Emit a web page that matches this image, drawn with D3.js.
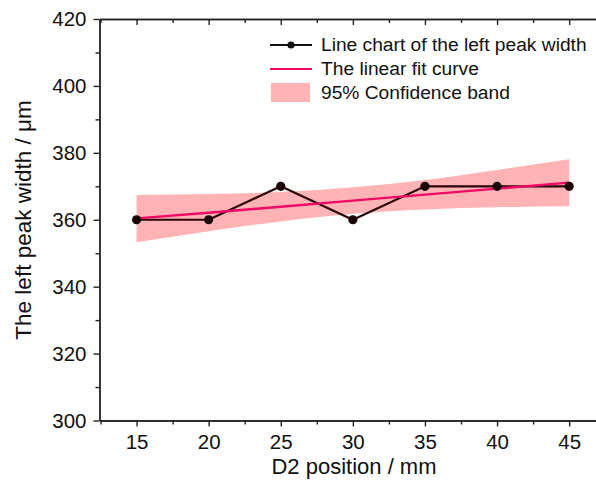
<!DOCTYPE html>
<html>
<head>
<meta charset="utf-8">
<script src="https://cdn.jsdelivr.net/npm/d3@7"></script>
<style>
  body { margin: 0; background: #fff; }
  svg { font-family: "Liberation Sans", Arial, sans-serif; }
  .axis path, .axis line { stroke: #222; stroke-width: 1.4; }
  .axis text { font-size: 20.5px; fill: #111; font-family: "Liberation Sans", Arial, sans-serif; }
</style>
</head>
<body>
<script>
//data
var positions = [15, 20, 25, 30, 35, 40, 45];
var peakWidth = [360, 360, 370, 360, 370, 370, 370];
var fitValues = [360.4, 362.1, 363.9, 365.7, 367.5, 369.3, 371.1];
var bandLower = [353.3, 356.6, 359.5, 361.8, 363.1, 363.7, 364.0];
var bandUpper = [367.4, 367.7, 368.3, 369.7, 371.9, 374.9, 378.1];
var yTicks = [300, 320, 340, 360, 380, 400, 420];
var legendLabels = ["Line chart of the left peak width", "The linear fit curve", "95% Confidence band"];

window.onload = drawChart();

function drawChart(){
    var width = 596,
        height = 483;
    var left = 99.5, top = 19, bottom = 420.5;

    var svg = d3.select("body")
        .append("svg")
        .attr("width", width)
        .attr("height", height);

    //x scale: 15 at ~136.5, 45 at ~569, axis runs off the right edge
    var x = d3.scaleLinear()
        .domain([12.43, 48])
        .range([left, left + (48 - 12.43) * 14.42]);

    var y = d3.scaleLinear()
        .domain([300, 420])
        .range([bottom, top]);

    var rows = positions.map(function(p, i){
        return {x: p, y: peakWidth[i], fit: fitValues[i], lo: bandLower[i], hi: bandUpper[i]};
    });

    //confidence band
    var area = d3.area()
        .x(function(d){ return x(d.x); })
        .y0(function(d){ return y(d.lo); })
        .y1(function(d){ return y(d.hi); })
        .curve(d3.curveMonotoneX);
    svg.append("path")
        .datum(rows)
        .attr("d", area)
        .attr("fill", "#ffb3b5");

    //data line
    var line = d3.line()
        .x(function(d){ return x(d.x); })
        .y(function(d){ return y(d.y); });
    svg.append("path")
        .datum(rows)
        .attr("d", line)
        .attr("fill", "none")
        .attr("stroke", "#2a0608")
        .attr("stroke-width", 2.2);

    //fit line
    var fitLine = d3.line()
        .x(function(d){ return x(d.x); })
        .y(function(d){ return y(d.fit); });
    svg.append("path")
        .datum(rows)
        .attr("d", fitLine)
        .attr("fill", "none")
        .attr("stroke", "#ee0a66")
        .attr("stroke-width", 2.4);

    svg.selectAll(".dot")
        .data(rows)
        .enter()
        .append("circle")
        .attr("class", "dot")
        .attr("cx", function(d){ return x(d.x); })
        .attr("cy", function(d){ return y(d.y); })
        .attr("r", 4.6)
        .attr("fill", "#1a0204");

    //axes
    var xMinor = d3.range(12.5, 48, 2.5).filter(function(v){ return v % 5 !== 0; });
    var yMinor = d3.range(310, 420, 20);

    svg.append("g").attr("class", "axis")
        .attr("transform", "translate(0," + bottom + ")")
        .call(d3.axisBottom(x).tickValues(positions).tickSize(6).tickPadding(8).tickSizeOuter(0));
    svg.append("g").attr("class", "axis")
        .attr("transform", "translate(0," + bottom + ")")
        .call(d3.axisBottom(x).tickValues(xMinor).tickSize(4).tickFormat("").tickSizeOuter(0));

    svg.append("g").attr("class", "axis")
        .attr("transform", "translate(0," + top + ")")
        .call(d3.axisTop(x).tickValues(positions).tickSize(-6).tickFormat("").tickSizeOuter(0));
    svg.append("g").attr("class", "axis")
        .attr("transform", "translate(0," + top + ")")
        .call(d3.axisTop(x).tickValues(xMinor).tickSize(-4).tickFormat("").tickSizeOuter(0));

    svg.append("g").attr("class", "axis")
        .attr("transform", "translate(" + left + ",0)")
        .call(d3.axisLeft(y).tickValues(yTicks).tickSize(6).tickPadding(7).tickSizeOuter(0));
    svg.append("g").attr("class", "axis")
        .attr("transform", "translate(" + left + ",0)")
        .call(d3.axisLeft(y).tickValues(yMinor).tickSize(4).tickFormat("").tickSizeOuter(0));

    //axis titles
    svg.append("text")
        .attr("x", 354)
        .attr("y", 474)
        .attr("text-anchor", "middle")
        .attr("font-size", 22)
        .attr("fill", "#111")
        .text("D2 position / mm");
    svg.append("text")
        .attr("transform", "translate(31,220) rotate(-90)")
        .attr("text-anchor", "middle")
        .attr("font-size", 22.5)
        .attr("fill", "#111")
        .text("The left peak width / \u03bcm");

    //legend
    var lg = svg.append("g").attr("transform", "translate(270,45)");
    lg.append("line").attr("x1", 0).attr("x2", 42).attr("y1", 0).attr("y2", 0)
        .attr("stroke", "#111").attr("stroke-width", 2);
    lg.append("circle").attr("cx", 21).attr("cy", 0).attr("r", 3.6).attr("fill", "#111");
    lg.append("line").attr("x1", 0).attr("x2", 42).attr("y1", 24).attr("y2", 24)
        .attr("stroke", "#ee0a66").attr("stroke-width", 2.2);
    lg.append("rect").attr("x", 1).attr("y", 38).attr("width", 39).attr("height", 19)
        .attr("fill", "#ffb3b5");
    lg.selectAll(".lt")
        .data(legendLabels)
        .enter()
        .append("text")
        .attr("class", "lt")
        .attr("x", 51)
        .attr("y", function(d, i){ return i * 23.8 + 6; })
        .attr("font-size", 19.2)
        .attr("fill", "#111")
        .text(function(d){ return d; });
}
</script>
</body>
</html>
